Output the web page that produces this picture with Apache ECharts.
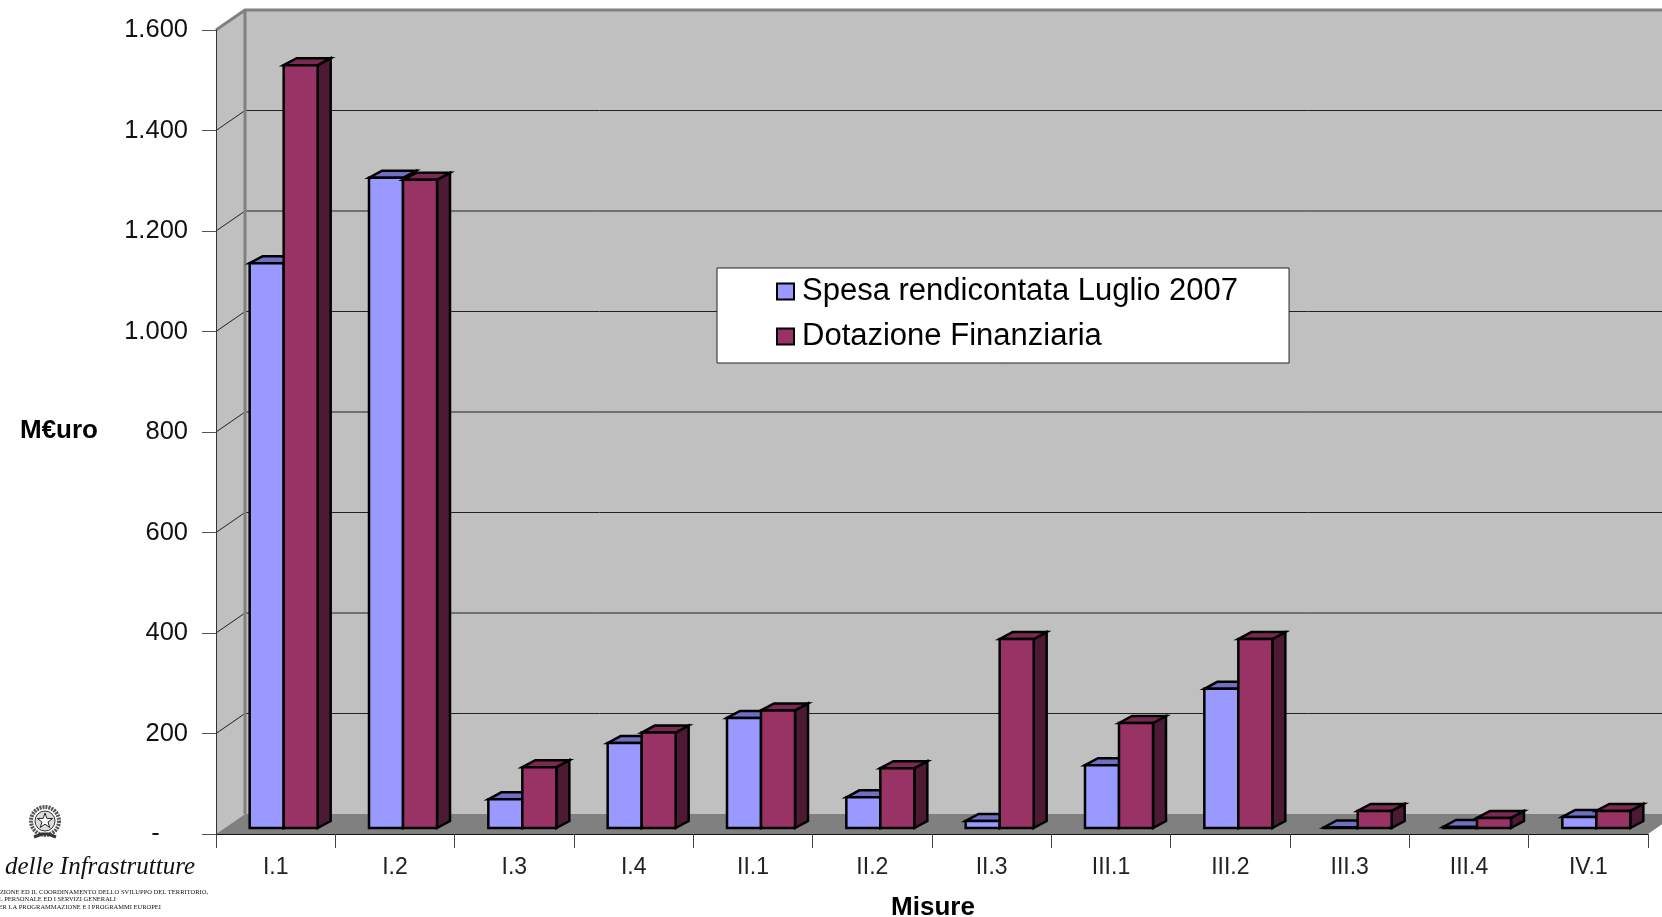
<!DOCTYPE html>
<html>
<head>
<meta charset="utf-8">
<title>Spesa rendicontata per misura</title>
<script src="https://cdn.jsdelivr.net/npm/echarts@6/dist/echarts.min.js"></script>
<style>
html, body { margin: 0; padding: 0; background: #fff; overflow: hidden; }
#chart { width: 1662px; height: 917px; }
</style>
</head>
<body>
<div id="chart"></div>
<script>
const categories = ['I.1', 'I.2', 'I.3', 'I.4', 'II.1', 'II.2', 'II.3', 'III.1', 'III.2', 'III.3', 'III.4', 'IV.1'];
const spesa = [1124, 1294, 57, 169, 219, 61, 14, 125, 277, 1, 2, 22];
const dotazione = [1518, 1290, 121, 190, 234, 119, 376, 209, 376, 34, 20, 34];
const yTicks = [200, 400, 600, 800, 1000, 1200, 1400, 1600];
const yTickLabels = ['-    ', '200', '400', '600', '800', '1.000', '1.200', '1.400', '1.600'];
const spesaName = 'Spesa rendicontata Luglio 2007';
const dotazioneName = 'Dotazione Finanziaria';

const chart = echarts.init(document.getElementById('chart'));

// fake 3D: depth of the wall box and of the bars
const WALL_DX = 29;
const WALL_DY = -20;
const BAR_W = 34;
const BAR_DX = 13;
const BAR_DY = -7;
const BAR_BASE = -6;

function poly(points, fill, stroke, lineWidth) {
  return {
    type: 'polygon',
    shape: { points: points },
    style: { fill: fill, stroke: stroke, lineWidth: lineWidth }
  };
}

function renderWalls(params, api) {
  const sys = params.coordSys;
  const left = sys.x;
  const right = sys.x + sys.width;
  const bottom = api.coord([0, 0])[1];
  const top = api.coord([0, 1600])[1];
  const children = [
    poly([[left + WALL_DX, top + WALL_DY], [right + WALL_DX, top + WALL_DY], [right + WALL_DX, bottom + WALL_DY], [left + WALL_DX, bottom + WALL_DY]], '#c0c0c0', null, 0),
    poly([[left, top], [left + WALL_DX, top + WALL_DY], [left + WALL_DX, bottom + WALL_DY], [left, bottom]], '#c0c0c0', null, 0),
    poly([[left, bottom], [left + WALL_DX, bottom + WALL_DY], [right + WALL_DX, bottom + WALL_DY], [right, bottom]], '#808080', null, 0)
  ];
  yTicks.forEach(function (v) {
    const y = api.coord([0, v])[1];
    const edge = v === 1600;
    children.push({
      type: 'polyline',
      shape: { points: [[left, y], [left + WALL_DX, y + WALL_DY], [right + WALL_DX, y + WALL_DY]] },
      style: { fill: null, stroke: edge ? '#808080' : '#222', lineWidth: edge ? 3 : 1 }
    });
  });
  children.push({
    type: 'line',
    shape: { x1: left + WALL_DX, y1: top + WALL_DY, x2: left + WALL_DX, y2: bottom + WALL_DY },
    style: { stroke: '#808080', lineWidth: 3 }
  });
  return { type: 'group', children: children };
}

function barRenderer(offset, front, topColor, sideColor) {
  return function (params, api) {
    const p = api.coord([api.value(0), api.value(1)]);
    const base = api.coord([api.value(0), 0])[1] + BAR_BASE;
    const x0 = p[0] + offset;
    const x1 = x0 + BAR_W;
    const y0 = p[1] + BAR_BASE;
    return {
      type: 'group',
      children: [
        poly([[x1, y0], [x1 + BAR_DX, y0 + BAR_DY], [x1 + BAR_DX, base + BAR_DY], [x1, base]], sideColor, '#000', 2.5),
        poly([[x0, y0], [x0 + BAR_DX, y0 + BAR_DY], [x1 + BAR_DX, y0 + BAR_DY], [x1, y0]], topColor, '#000', 2.5),
        poly([[x0, y0], [x1, y0], [x1, base], [x0, base]], front, '#000', 2.5)
      ]
    };
  };
}

function star(cx, cy, r) {
  const pts = [];
  for (let i = 0; i < 10; i++) {
    const rr = i % 2 ? r * 0.4 : r;
    const a = -Math.PI / 2 + i * Math.PI / 5;
    pts.push([cx + rr * Math.cos(a), cy + rr * Math.sin(a)]);
  }
  return pts;
}

const smallText = { fontFamily: '"Liberation Serif"', fontSize: 6.5, fill: '#111', align: 'right', verticalAlign: 'middle' };
const axisTitle = { fontFamily: '"Liberation Sans"', fontSize: 26, fontWeight: 'bold', fill: '#000', align: 'center', verticalAlign: 'middle' };

chart.setOption({
  backgroundColor: '#fff',
  animation: false,
  textStyle: { fontFamily: '"Liberation Sans", Arial, sans-serif' },
  grid: { left: 216, right: 14, top: 30, bottom: 83 },
  legend: {
    left: 717,
    top: 268,
    orient: 'vertical',
    padding: [8, 51, 11, 59],
    itemGap: 14,
    itemWidth: 17,
    itemHeight: 16,
    backgroundColor: '#fff',
    borderColor: '#222',
    borderWidth: 1,
    borderRadius: 0,
    z: 10,
    textStyle: { fontSize: 31, color: '#000', padding: [0, 0, 0, 3] },
    data: [
      { name: spesaName, icon: 'rect', itemStyle: { color: '#9999ff', borderColor: '#000', borderWidth: 2 } },
      { name: dotazioneName, icon: 'rect', itemStyle: { color: '#993366', borderColor: '#000', borderWidth: 2 } }
    ]
  },
  xAxis: {
    type: 'category',
    data: categories,
    z: 3,
    axisLine: { lineStyle: { color: '#111', width: 1 } },
    axisTick: { show: true, alignWithLabel: false, length: 14, lineStyle: { color: '#444', width: 1 } },
    axisLabel: { fontSize: 23, color: '#222', margin: 22, interval: 0 },
    splitLine: { show: false }
  },
  yAxis: {
    type: 'value',
    min: 0,
    max: 1600,
    interval: 200,
    z: 3,
    axisLine: { show: true, lineStyle: { color: '#333', width: 1 } },
    axisTick: { show: true, length: 14, lineStyle: { color: '#555', width: 1 } },
    axisLabel: {
      fontSize: 25.5,
      color: '#111',
      margin: 28,
      formatter: function (v) { return yTickLabels[v / 200]; }
    },
    splitLine: { show: false }
  },
  series: [
    {
      name: 'walls',
      type: 'custom',
      silent: true,
      z: 1,
      renderItem: renderWalls,
      encode: { x: 0, y: 1 },
      data: [[0, 0]]
    },
    {
      name: spesaName,
      type: 'custom',
      z: 4,
      itemStyle: { color: '#9999ff' },
      renderItem: barRenderer(-26, '#9999ff', '#6f6fc4', '#4d4d80'),
      encode: { x: 0, y: 1 },
      data: spesa.map(function (v, i) { return [i, v]; })
    },
    {
      name: dotazioneName,
      type: 'custom',
      z: 5,
      itemStyle: { color: '#993366' },
      renderItem: barRenderer(8, '#993366', '#7a2952', '#4d1a33'),
      encode: { x: 0, y: 1 },
      data: dotazione.map(function (v, i) { return [i, v]; })
    }
  ],
  graphic: [
    { type: 'text', x: 59, y: 431, style: Object.assign({ text: 'M€uro' }, axisTitle) },
    { type: 'text', x: 933, y: 908, style: Object.assign({ text: 'Misure' }, axisTitle) },
    // emblem
    { type: 'arc', shape: { cx: 45, cy: 821, r: 14, startAngle: 0, endAngle: Math.PI * 2 }, style: { fill: null, stroke: '#555', lineWidth: 4, lineDash: [2, 1] } },
    { type: 'circle', shape: { cx: 45, cy: 821, r: 10 }, style: { fill: '#ddd', stroke: '#333', lineWidth: 1 } },
    { type: 'polygon', shape: { points: star(45, 821, 8) }, style: { fill: '#fff', stroke: '#222', lineWidth: 1 } },
    { type: 'polyline', shape: { points: [[34, 837], [42, 834], [48, 834], [56, 837]] }, style: { fill: null, stroke: '#333', lineWidth: 3 } },
    // ministry text, cut by the left page edge
    { type: 'text', x: 5, y: 867, style: { text: 'delle Infrastrutture', fontFamily: '"Liberation Serif"', fontStyle: 'italic', fontSize: 25, fill: '#111', verticalAlign: 'middle' } },
    { type: 'text', x: 208, y: 892, style: Object.assign({ text: 'AZIONE ED IL COORDINAMENTO DELLO SVILUPPO DEL TERRITORIO,' }, smallText) },
    { type: 'text', x: 116, y: 899, style: Object.assign({ text: 'L PERSONALE ED I SERVIZI GENERALI' }, smallText) },
    { type: 'text', x: 161, y: 907, style: Object.assign({ text: 'PER LA PROGRAMMAZIONE E I PROGRAMMI EUROPEI' }, smallText) }
  ]
});

window.addEventListener('resize', function () { chart.resize(); });
</script>
</body>
</html>
